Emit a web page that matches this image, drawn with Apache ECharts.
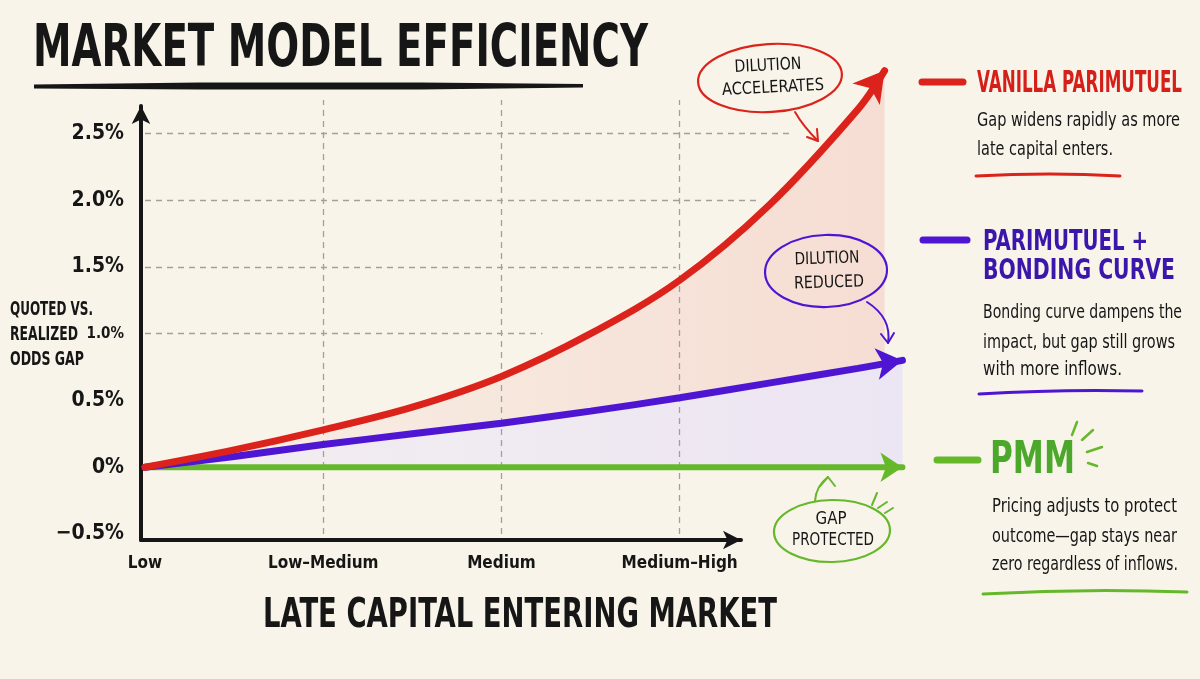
<!DOCTYPE html>
<html><head><meta charset="utf-8">
<script src="https://cdn.jsdelivr.net/npm/echarts@6/dist/echarts.min.js"></script>
<style>html,body{margin:0;padding:0;background:#F8F4EA}#c{width:1200px;height:679px}</style>
</head><body><div id="c"></div>
<script>
// ---------- data ----------
const xTickLabels = ['Low', 'Low–Medium', 'Medium', 'Medium–High'];
const yTicks = [-0.5, 0, 0.5, 1.0, 1.5, 2.0, 2.5];
const yTickLabels = ['−0.5%', '0%', '0.5%', '1.0%', '1.5%', '2.0%', '2.5%'];
const gridValues = [1.0, 1.5, 2.0, 2.5];
const gridEnds = [2.23, 2.98, 3.43, 3.63];
const vanillaX = [0, 0.5, 1, 1.5, 2, 2.5, 3, 3.5, 4, 4.15];
const vanillaY = [0, 0.13, 0.28, 0.45, 0.68, 1.00, 1.40, 1.96, 2.68, 2.97];
const bondingX = [0, 0.5, 1, 1.5, 2, 2.5, 3, 3.5, 4, 4.25];
const bondingY = [0, 0.08, 0.17, 0.25, 0.33, 0.42, 0.52, 0.63, 0.74, 0.80];
const pmmX = [0, 1, 2, 3, 4, 4.25];
const pmmY = [0, 0, 0, 0, 0, 0];
const seriesNames = ['VANILLA PARIMUTUEL', 'PARIMUTUEL + BONDING CURVE', 'PMM'];

// ---------- style ----------
const CF = "'Liberation Sans Narrow','DejaVu Sans Condensed','Roboto Condensed','Liberation Sans',sans-serif";
const RED = '#DC231B', PURPLE = '#4E16D2', GREEN = '#66B82B';
const INK = '#161616';
const mctx = document.createElement('canvas').getContext('2d');
function fit(text, font, target) { mctx.font = font; return target / mctx.measureText(text).width; }
function T(text, x, y, size, weight, color, target, align, rot) {
  const font = weight + ' ' + size + 'px ' + CF;
  const s = target ? fit(text, font, target) : 1;
  return { type: 'text', x: x, y: y, scaleX: s, rotation: rot || 0, silent: true, z: 20,
    style: { text: text, font: font, fill: color, textAlign: align || 'left', textVerticalAlign: 'middle', verticalAlign: 'middle' } };
}
function L(x1, y1, x2, y2, color, w) {
  return { type: 'line', silent: true, z: 20, shape: { x1, y1, x2, y2 }, style: { stroke: color, lineWidth: w, lineCap: 'round' } };
}
function Q(x1, y1, cx, cy, x2, y2, color, w) {
  return { type: 'bezierCurve', silent: true, z: 20, shape: { x1, y1, cpx1: cx, cpy1: cy, x2, y2 }, style: { stroke: color, lineWidth: w, lineCap: 'round', fill: null } };
}
function P(points, color, w) {
  return { type: 'polyline', silent: true, z: 20, shape: { points }, style: { stroke: color, lineWidth: w, lineCap: 'round', lineJoin: 'round', fill: null } };
}
function E(cx, cy, rx, ry, color, rot) {
  return { type: 'ellipse', silent: true, z: 20, x: cx, y: cy, rotation: rot || 0, shape: { cx: 0, cy: 0, rx, ry }, style: { stroke: color, lineWidth: 2.2, fill: null } };
}

const pts = (xs, ys) => xs.map((x, i) => [x, ys[i]]);
function withArrow(xs, ys, rot, size) {
  const d = pts(xs, ys);
  const k = d.length - 1;
  d[k] = { value: d[k], symbol: 'arrow', symbolSize: size, symbolRotate: rot };
  return d;
}

const graphics = [
  // title
  T('MARKET MODEL EFFICIENCY', 33, 51, 58, 'bold', INK, 615),
  { type: 'polygon', silent: true, z: 20, shape: { points: [[34, 84.5], [200, 82.5], [420, 82.5], [583, 84], [583, 87.5], [420, 89.5], [200, 89.5], [34, 88.5]] }, style: { fill: INK } },
  // y axis name
  T('QUOTED VS.', 10, 310, 19, 'bold', INK, 83),
  T('REALIZED', 10, 335, 19, 'bold', INK, 68),
  T('ODDS GAP', 10, 360, 19, 'bold', INK, 74),
  // x axis name
  T('LATE CAPITAL ENTERING MARKET', 520, 617, 40, 'bold', INK, 514, 'center'),
  // legend: vanilla
  L(922, 82, 963, 82, RED, 7),
  T(seriesNames[0], 977, 84, 30, 'bold', '#D42019', 205),
  T('Gap widens rapidly as more', 977, 121, 20, 'normal', INK, 203),
  T('late capital enters.', 977, 150, 20, 'normal', INK, 136),
  Q(976, 176, 1050, 172, 1120, 176, RED, 3),
  // legend: bonding
  L(923, 240, 967, 240, PURPLE, 7),
  T('PARIMUTUEL +', 983, 243, 28, 'bold', '#3A17AA', 165),
  T('BONDING CURVE', 983, 272, 28, 'bold', '#3A17AA', 192),
  T('Bonding curve dampens the', 983, 313, 20, 'normal', INK, 199),
  T('impact, but gap still grows', 983, 343, 20, 'normal', INK, 192),
  T('with more inflows.', 983, 370, 20, 'normal', INK, 139),
  Q(979, 394, 1060, 389, 1142, 391, PURPLE, 3),
  // legend: pmm
  L(937, 460, 978, 460, GREEN, 7),
  T(seriesNames[2], 990, 462, 44, 'bold', '#4BA82A', 85),
  L(1072, 435, 1077, 422, GREEN, 2.5),
  L(1082, 440, 1093, 430, GREEN, 2.5),
  L(1087, 452, 1102, 447, GREEN, 2.5),
  L(1088, 463, 1097, 466, GREEN, 2.5),
  T('Pricing adjusts to protect', 992, 507, 20, 'normal', INK, 185),
  T('outcome—gap stays near', 992, 537, 20, 'normal', INK, 185),
  T('zero regardless of inflows.', 992, 565, 20, 'normal', INK, 186),
  Q(983, 594, 1085, 588, 1187, 592, GREEN, 3),
  // annotation: dilution accelerates
  E(770, 78, 72, 34, RED, 0.06),
  T('DILUTION', 768, 66, 17, 'normal', INK, 67, 'center', 0.05),
  T('ACCELERATES', 773, 88, 17, 'normal', INK, 102, 'center', 0.05),
  Q(795, 112, 803, 126, 818, 141, RED, 2),
  P([[807, 137], [818, 141], [817, 129]], RED, 2),
  // annotation: dilution reduced
  E(826, 271, 61, 36, PURPLE, 0.03),
  T('DILUTION', 827, 259, 17, 'normal', INK, 65, 'center', 0.03),
  T('REDUCED', 829, 283, 17, 'normal', INK, 70, 'center', 0.03),
  Q(867, 302, 892, 318, 888, 343, PURPLE, 2),
  P([[881, 334], [888, 343], [894, 333]], PURPLE, 2),
  // annotation: gap protected
  E(832, 531, 58, 31, GREEN, 0.02),
  T('GAP', 831, 520, 17, 'normal', INK, 31, 'center'),
  T('PROTECTED', 833, 541, 17, 'normal', INK, 82, 'center'),
  Q(815, 501, 816, 486, 828, 477, GREEN, 2),
  P([[820, 486], [828, 477], [835, 486]], GREEN, 2),
  L(872, 505, 877, 493, GREEN, 2),
  L(878, 508, 887, 502, GREEN, 2),
  L(885, 513, 893, 508, GREEN, 2)
];

const dash = { type: [6, 5], color: '#A3A09A', width: 1.3 };

const option = {
  backgroundColor: '#F8F4EA',
  animation: false,
  grid: [
    { left: 145, top: 100, width: 802, height: 434 },
    { left: 141, top: 106, width: 600, height: 434 }
  ],
  xAxis: [
    { type: 'value', gridIndex: 0, min: 0, max: 4.5, interval: 1,
      axisLine: { show: false }, axisTick: { show: false }, splitLine: { show: false },
      axisLabel: { margin: 21, color: INK, fontSize: 17, fontWeight: 'bold', fontFamily: CF,
        formatter: v => (Number.isInteger(v) && xTickLabels[v]) ? xTickLabels[v] : '' } },
    { type: 'value', gridIndex: 1, min: 0, max: 1, show: true,
      axisLine: { show: true, onZero: false, symbol: ['none', 'arrow'], symbolSize: [14, 18], lineStyle: { color: INK, width: 4 } },
      axisTick: { show: false }, axisLabel: { show: false }, splitLine: { show: false } }
  ],
  yAxis: [
    { type: 'value', gridIndex: 0, min: -0.5, max: 2.75, interval: 0.5,
      axisLine: { show: false }, axisTick: { show: false }, splitLine: { show: false },
      axisLabel: { margin: 21, color: INK, fontSize: 21, fontWeight: 'bold', fontFamily: CF,
        formatter: v => {
          const i = yTicks.indexOf(v);
          if (i < 0) return '';
          return v === 1 ? '{s|' + yTickLabels[i] + '}' : yTickLabels[i];
        },
        rich: { s: { fontSize: 15, fontWeight: 'bold', fontFamily: CF, color: INK } } } },
    { type: 'value', gridIndex: 1, min: 0, max: 1,
      axisLine: { show: true, onZero: false, symbol: ['none', 'arrow'], symbolSize: [14, 18], lineStyle: { color: INK, width: 4 } },
      axisTick: { show: false }, axisLabel: { show: false }, splitLine: { show: false } }
  ],
  series: [
    { name: 'vanilla-fill', type: 'line', xAxisIndex: 0, yAxisIndex: 0, z: 1, clip: false, smooth: 0.35,
      symbol: 'none', silent: true, lineStyle: { width: 0 },
      areaStyle: { opacity: 1, color: new echarts.graphic.LinearGradient(0, 0, 1, 0, [
        { offset: 0, color: 'rgba(238,150,140,0.05)' }, { offset: 1, color: 'rgba(238,140,130,0.22)' }]) },
      data: pts(vanillaX, vanillaY),
      markLine: { silent: true, symbol: ['none', 'none'], label: { show: false }, lineStyle: dash, animation: false,
        data: gridValues.map((v, i) => [{ coord: [0, v] }, { coord: [gridEnds[i], v] }]) } },
    { name: 'bonding-fill', type: 'line', xAxisIndex: 0, yAxisIndex: 0, z: 1, smooth: 0.35,
      symbol: 'none', silent: true, lineStyle: { width: 0 },
      areaStyle: { opacity: 1, color: new echarts.graphic.LinearGradient(0, 0, 1, 0, [
        { offset: 0, color: '#F3EEF0' }, { offset: 1, color: '#ECE5F3' }]) },
      data: pts(bondingX, bondingY),
      markLine: { silent: true, symbol: ['none', 'none'], label: { show: false }, lineStyle: dash, animation: false,
        data: [1, 2, 3].map(i => ({ xAxis: i })) } },
    { name: seriesNames[2], type: 'line', xAxisIndex: 0, yAxisIndex: 0, z: 6, smooth: false, clip: false,
      symbol: 'none', showSymbol: true, silent: true, color: GREEN,
      lineStyle: { width: 6, color: GREEN, cap: 'round' },
      data: withArrow(pmmX, pmmY, -90, [22, 22]) },
    { name: seriesNames[1], type: 'line', xAxisIndex: 0, yAxisIndex: 0, z: 7, smooth: 0.35, clip: false,
      symbol: 'none', showSymbol: true, silent: true, color: PURPLE,
      lineStyle: { width: 7, color: PURPLE, cap: 'round' },
      data: withArrow(bondingX, bondingY, -82, [24, 26]) },
    { name: seriesNames[0], type: 'line', xAxisIndex: 0, yAxisIndex: 0, z: 8, smooth: 0.35, clip: false,
      symbol: 'none', showSymbol: true, silent: true, color: RED,
      lineStyle: { width: 7, color: RED, cap: 'round' },
      data: withArrow(vanillaX, vanillaY, -38, [26, 30]) }
  ],
  graphic: { elements: graphics }
};

const chart = echarts.init(document.getElementById('c'), null, { renderer: 'canvas', width: 1200, height: 679 });
chart.setOption(option);
</script>
</body></html>
